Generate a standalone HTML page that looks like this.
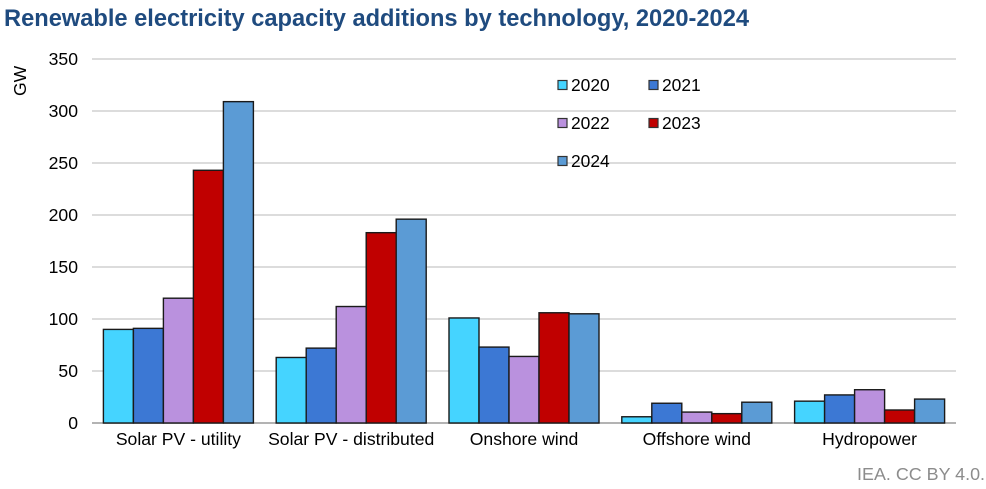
<!DOCTYPE html>
<html>
<head>
<meta charset="utf-8">
<style>
html,body{margin:0;padding:0;background:#fff;}
svg{display:block;font-family:"Liberation Sans",Arial,sans-serif;}
</style>
</head>
<body>
<svg id="chart" xmlns="http://www.w3.org/2000/svg" width="986" height="489" viewBox="0 0 986 489">
<rect width="986" height="489" fill="#fff"/>
<text x="4" y="26" font-size="23.66" font-weight="700" fill="#1f4b7f">Renewable electricity capacity additions by technology, 2020-2024</text>
<text transform="translate(26,96) rotate(-90)" font-size="17.6" fill="#000">GW</text>
<text x="985" y="480" text-anchor="end" font-size="17.9" fill="#8c8c8c">IEA. CC BY 4.0.</text>
<g id="grid"></g>
<g id="bars"></g>
<g id="labels"></g>
<g id="legend"></g>
</svg>
<script>
const categories = ["Solar PV - utility", "Solar PV - distributed", "Onshore wind", "Offshore wind", "Hydropower"];
const seriesNames = ["2020", "2021", "2022", "2023", "2024"];
const values2020 = [90, 63, 101, 6, 21];
const values2021 = [91, 72, 73, 19, 27];
const values2022 = [120, 112, 64, 10.5, 32];
const values2023 = [243, 183, 106, 9, 12.5];
const values2024 = [309, 196, 105, 20, 23];
const yTicks = [0, 50, 100, 150, 200, 250, 300, 350];

const allSeries = [values2020, values2021, values2022, values2023, values2024];
const colors = ["#45d4ff", "#3c78d4", "#ba91de", "#c00000", "#5b9bd5"];
const NS = "http://www.w3.org/2000/svg";
const plot = {left: 92, right: 956, top: 59, bottom: 423, max: 350, barW: 30};

function yScale(v) {
  return plot.bottom - (v / plot.max) * (plot.bottom - plot.top);
}
function bandStart(i) {
  return plot.left + i * (plot.right - plot.left) / categories.length;
}
function bandWidth() {
  return (plot.right - plot.left) / categories.length;
}
function barX(catIndex, seriesIndex) {
  const groupW = plot.barW * allSeries.length;
  return bandStart(catIndex) + (bandWidth() - groupW) / 2 + seriesIndex * plot.barW;
}
function make(tag, parent, attrs, text) {
  const el = document.createElementNS(NS, tag);
  for (const k in attrs) el.setAttribute(k, attrs[k]);
  if (text !== undefined) el.textContent = text;
  parent.appendChild(el);
  return el;
}

const grid = document.getElementById("grid");
yTicks.forEach(function (t) {
  const y = yScale(t);
  const line = make("line", grid, {x1: plot.left, x2: plot.right, y1: y, y2: y, stroke: t === 0 ? "#b3b3b3" : "#dcdcdc", "stroke-width": 2});
  
  
  const label = make("text", grid, {x: 78, y: y + 6, "text-anchor": "end", "font-size": 17.6, fill: "#000"}, String(t));
  
  
});

const bars = document.getElementById("bars");
allSeries.forEach(function (vals, s) {
  vals.forEach(function (v, c) {
    const y = yScale(v);
    const r = make("rect", bars, {x: barX(c, s), y: y, width: plot.barW, height: plot.bottom - y, fill: colors[s], stroke: "#1a1a1a", "stroke-width": 1.4});
    
    
  });
});

const labels = document.getElementById("labels");
categories.forEach(function (name, c) {
  const t = make("text", labels, {x: bandStart(c) + bandWidth() / 2, y: 445, "text-anchor": "middle", "font-size": 17.6, fill: "#000"}, name);
  
  
});

const legend = document.getElementById("legend");
seriesNames.forEach(function (name, s) {
  const col = s % 2, row = Math.floor(s / 2);
  const x = 558 + col * 91, y = 80.5 + row * 38;
  const g = make("g", legend, {});
  
  
  make("rect", g, {x: x, y: y, width: 9, height: 9, fill: colors[s], stroke: "#333", "stroke-width": 1.2});
  make("text", g, {x: x + 13, y: y + 10.5, "font-size": 17.4, fill: "#000"}, name);
});
</script>
</body>
</html>
